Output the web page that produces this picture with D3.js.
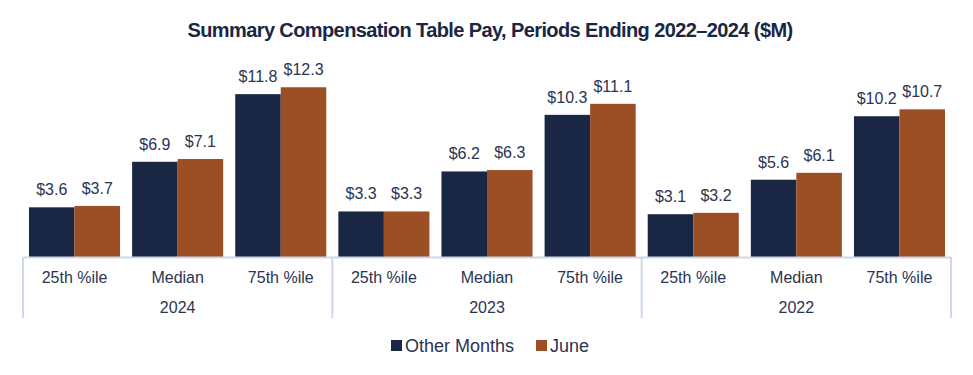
<!DOCTYPE html>
<html>
<head>
<meta charset="utf-8">
<script src="https://cdn.jsdelivr.net/npm/d3@7"></script>
<style>
  body { margin: 0; background: #fff; }
  text { font-family: "Liberation Sans", Arial, sans-serif; }
</style>
</head>
<body>
<div id="chart"></div>
<script>
const years = ["2024", "2023", "2022"];
const stats = ["25th %ile", "Median", "75th %ile"];
const seriesNames = ["Other Months", "June"];
const otherMonths = [3.6, 6.9, 11.8, 3.3, 6.2, 10.3, 3.1, 5.6, 10.2];
const june = [3.7, 7.1, 12.3, 3.3, 6.3, 11.1, 3.2, 6.1, 10.7];

const colors = ["#1a2744", "#9c4f25"];
const textColor = "#2b3450";
const axisColor = "#cdd8ea";

const W = 973, H = 375;
const margin = { left: 23, right: 22 };
const baseY = 257;

// Build category rows from the arrays
const rows = [];
years.forEach((y, yi) => {
    stats.forEach((s, si) => {
        const i = yi * stats.length + si;
        rows.push({ key: y + "|" + s, year: y, stat: s, values: [otherMonths[i], june[i]] });
    });
});

const svg = d3.select("#chart").append("svg")
    .attr("width", W)
    .attr("height", H);

// Title
svg.append("text")
    .attr("x", 490)
    .attr("y", 37)
    .attr("text-anchor", "middle")
    .style("font-size", "20px")
    .style("font-weight", "bold")
    .style("letter-spacing", "-0.6px")
    .style("fill", "#1a2744")
    .text("Summary Compensation Table Pay, Periods Ending 2022\u20132024 ($M)");

// Scales
const x0 = d3.scaleBand()
    .domain(rows.map(d => d.key))
    .range([margin.left, W - margin.right])
    .paddingInner(0.117)
    .paddingOuter(0.058);

const x1 = d3.scaleBand()
    .domain([0, 1])
    .range([0, x0.bandwidth()]);

const yScale = d3.scaleLinear()
    .domain([0, 14])
    .range([baseY, baseY - 14 * 13.8]);

// Bars
const groups = svg.selectAll(".cat")
    .data(rows)
    .enter().append("g")
    .attr("class", "cat")
    .attr("transform", d => `translate(${x0(d.key)},0)`);

groups.selectAll("rect")
    .data(d => d.values.map((v, i) => ({ v, i })))
    .enter().append("rect")
    .attr("x", d => x1(d.i))
    .attr("y", d => yScale(d.v))
    .attr("width", x1.bandwidth())
    .attr("height", d => baseY - yScale(d.v))
    .attr("fill", d => colors[d.i]);

// Value labels
groups.selectAll(".val")
    .data(d => d.values.map((v, i) => ({ v, i })))
    .enter().append("text")
    .attr("class", "val")
    .attr("x", d => x1(d.i) + x1.bandwidth() / 2)
    .attr("y", d => yScale(d.v) - 12)
    .attr("text-anchor", "middle")
    .style("font-size", "16px")
    .style("fill", textColor)
    .text(d => "$" + d3.format(".1f")(d.v));

// Axis line
const plotLeft = margin.left, plotRight = W - margin.right;
svg.append("line")
    .attr("x1", plotLeft).attr("x2", plotRight)
    .attr("y1", baseY + 0.5).attr("y2", baseY + 0.5)
    .attr("stroke", axisColor).attr("stroke-width", 2);

// Group dividers
const groupW = (plotRight - plotLeft) / years.length;
d3.range(years.length + 1).forEach(i => {
    const gx = plotLeft + i * groupW;
    svg.append("line")
        .attr("x1", gx).attr("x2", gx)
        .attr("y1", baseY).attr("y2", 318)
        .attr("stroke", axisColor).attr("stroke-width", 2);
});

// Category labels
const catW = groupW / stats.length;
rows.forEach((d, i) => {
    svg.append("text")
        .attr("x", plotLeft + (i + 0.5) * catW)
        .attr("y", 283)
        .attr("text-anchor", "middle")
        .style("font-size", "16px")
        .style("fill", textColor)
        .text(d.stat);
});

// Year labels
years.forEach((y, i) => {
    svg.append("text")
        .attr("x", plotLeft + (i + 0.5) * groupW)
        .attr("y", 313)
        .attr("text-anchor", "middle")
        .style("font-size", "16px")
        .style("fill", textColor)
        .text(y);
});

// Legend
const legendX = [391, 536];
seriesNames.forEach((name, i) => {
    svg.append("rect")
        .attr("x", legendX[i]).attr("y", 340)
        .attr("width", 11).attr("height", 11)
        .attr("fill", colors[i]);
    svg.append("text")
        .attr("x", legendX[i] + 14)
        .attr("y", 352)
        .style("font-size", "18px")
        .style("fill", textColor)
        .text(name);
});
</script>
</body>
</html>
